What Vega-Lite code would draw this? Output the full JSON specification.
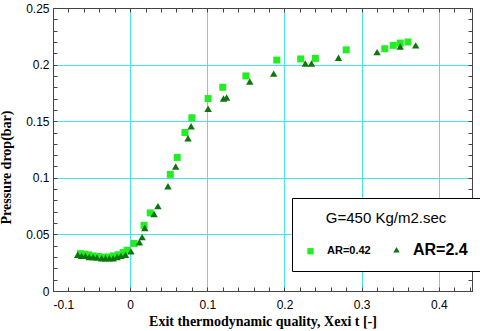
{
  "$schema": "https://vega.github.io/schema/vega-lite/v6.json",
  "width": 419,
  "height": 283,
  "autosize": {"type": "none"},
  "padding": {"left": 53, "top": 8, "right": 8, "bottom": 40},
  "background": "white",
  "config": {
    "view": {"stroke": "#444", "strokeWidth": 1},
    "axis": {
      "labelFont": "Liberation Sans",
      "labelFontSize": 12,
      "labelColor": "#000",
      "titleFont": "Liberation Serif",
      "titleFontSize": 14,
      "titleFontWeight": "bold",
      "titleColor": "#000",
      "domainColor": "#444",
      "tickColor": "#444",
      "gridColor": "#44e4ec",
      "gridWidth": 1
    }
  },
  "data": {
    "values": [
      {"x": -0.0645, "y": 0.033, "s": "AR=0.42"},
      {"x": -0.059, "y": 0.0325, "s": "AR=0.42"},
      {"x": -0.054, "y": 0.032, "s": "AR=0.42"},
      {"x": -0.048, "y": 0.031, "s": "AR=0.42"},
      {"x": -0.041, "y": 0.0305, "s": "AR=0.42"},
      {"x": -0.035, "y": 0.030, "s": "AR=0.42"},
      {"x": -0.028, "y": 0.030, "s": "AR=0.42"},
      {"x": -0.022, "y": 0.031, "s": "AR=0.42"},
      {"x": -0.0155, "y": 0.032, "s": "AR=0.42"},
      {"x": -0.009, "y": 0.034, "s": "AR=0.42"},
      {"x": -0.004, "y": 0.036, "s": "AR=0.42"},
      {"x": 0.005, "y": 0.042, "s": "AR=0.42"},
      {"x": 0.018, "y": 0.058, "s": "AR=0.42"},
      {"x": 0.026, "y": 0.069, "s": "AR=0.42"},
      {"x": 0.052, "y": 0.103, "s": "AR=0.42"},
      {"x": 0.061, "y": 0.118, "s": "AR=0.42"},
      {"x": 0.071, "y": 0.140, "s": "AR=0.42"},
      {"x": 0.080, "y": 0.153, "s": "AR=0.42"},
      {"x": 0.101, "y": 0.170, "s": "AR=0.42"},
      {"x": 0.120, "y": 0.180, "s": "AR=0.42"},
      {"x": 0.150, "y": 0.190, "s": "AR=0.42"},
      {"x": 0.190, "y": 0.204, "s": "AR=0.42"},
      {"x": 0.221, "y": 0.205, "s": "AR=0.42"},
      {"x": 0.240, "y": 0.2055, "s": "AR=0.42"},
      {"x": 0.280, "y": 0.213, "s": "AR=0.42"},
      {"x": 0.330, "y": 0.214, "s": "AR=0.42"},
      {"x": 0.341, "y": 0.217, "s": "AR=0.42"},
      {"x": 0.350, "y": 0.219, "s": "AR=0.42"},
      {"x": 0.360, "y": 0.220, "s": "AR=0.42"},
      {"x": -0.068, "y": 0.032, "s": "AR=2.4"},
      {"x": -0.063, "y": 0.031, "s": "AR=2.4"},
      {"x": -0.058, "y": 0.031, "s": "AR=2.4"},
      {"x": -0.053, "y": 0.030, "s": "AR=2.4"},
      {"x": -0.048, "y": 0.030, "s": "AR=2.4"},
      {"x": -0.043, "y": 0.0295, "s": "AR=2.4"},
      {"x": -0.037, "y": 0.029, "s": "AR=2.4"},
      {"x": -0.032, "y": 0.029, "s": "AR=2.4"},
      {"x": -0.027, "y": 0.029, "s": "AR=2.4"},
      {"x": -0.022, "y": 0.029, "s": "AR=2.4"},
      {"x": -0.017, "y": 0.030, "s": "AR=2.4"},
      {"x": -0.012, "y": 0.031, "s": "AR=2.4"},
      {"x": -0.006, "y": 0.032, "s": "AR=2.4"},
      {"x": 0.001, "y": 0.035, "s": "AR=2.4"},
      {"x": 0.012, "y": 0.043, "s": "AR=2.4"},
      {"x": 0.0155, "y": 0.0476, "s": "AR=2.4"},
      {"x": 0.019, "y": 0.0556, "s": "AR=2.4"},
      {"x": 0.031, "y": 0.068, "s": "AR=2.4"},
      {"x": 0.036, "y": 0.075, "s": "AR=2.4"},
      {"x": 0.049, "y": 0.0926, "s": "AR=2.4"},
      {"x": 0.059, "y": 0.110, "s": "AR=2.4"},
      {"x": 0.075, "y": 0.135, "s": "AR=2.4"},
      {"x": 0.079, "y": 0.1455, "s": "AR=2.4"},
      {"x": 0.101, "y": 0.161, "s": "AR=2.4"},
      {"x": 0.121, "y": 0.170, "s": "AR=2.4"},
      {"x": 0.125, "y": 0.171, "s": "AR=2.4"},
      {"x": 0.155, "y": 0.185, "s": "AR=2.4"},
      {"x": 0.186, "y": 0.192, "s": "AR=2.4"},
      {"x": 0.227, "y": 0.201, "s": "AR=2.4"},
      {"x": 0.235, "y": 0.201, "s": "AR=2.4"},
      {"x": 0.270, "y": 0.206, "s": "AR=2.4"},
      {"x": 0.320, "y": 0.211, "s": "AR=2.4"},
      {"x": 0.350, "y": 0.216, "s": "AR=2.4"},
      {"x": 0.370, "y": 0.217, "s": "AR=2.4"}
    ]
  },
  "resolve": {"axis": {"x": "independent", "y": "independent"}},
  "layer": [
    {
      "transform": [{"filter": "datum.s === 'AR=0.42'"}],
      "mark": {"type": "point", "filled": true, "opacity": 1, "size": 49},
      "encoding": {
        "x": {
          "field": "x", "type": "quantitative",
          "scale": {"domain": [-0.1, 0.443], "nice": false, "zero": false},
          "axis": {
            "orient": "bottom",
            "title": "Exit thermodynamic quality, Xexi t [-]",
            "titlePadding": 4,
            "values": [-0.1, -0.08, -0.06, -0.04, -0.02, 0, 0.02, 0.04, 0.06, 0.08, 0.1, 0.12, 0.14, 0.16, 0.18, 0.2, 0.22, 0.24, 0.26, 0.28, 0.3, 0.32, 0.34, 0.36, 0.38, 0.4, 0.42, 0.44],
            "tickSize": -4,
            "labelPadding": 12,
            "labelExpr": "abs(datum.value*10 - round(datum.value*10)) < 1e-6 ? replace(format(datum.value, '~g'), '\u2212', '-') : ''",
            "grid": true,
            "gridOpacity": {"condition": {"test": "abs(datum.value*10 - round(datum.value*10)) < 1e-6", "value": 1}, "value": 0}
          }
        },
        "y": {
          "field": "y", "type": "quantitative",
          "scale": {"domain": [0, 0.25], "nice": false},
          "axis": {
            "orient": "left",
            "title": "Pressure drop(bar)",
            "titleX": -40,
            "titleY": 159,
            "values": [0, 0.01, 0.02, 0.03, 0.04, 0.05, 0.06, 0.07, 0.08, 0.09, 0.1, 0.11, 0.12, 0.13, 0.14, 0.15, 0.16, 0.17, 0.18, 0.19, 0.2, 0.21, 0.22, 0.23, 0.24, 0.25],
            "tickSize": -4,
            "labelPadding": 8,
            "labelExpr": "abs(datum.value*20 - round(datum.value*20)) < 1e-6 ? format(datum.value, '~g') : ''",
            "grid": true,
            "gridOpacity": {"condition": {"test": "abs(datum.value*20 - round(datum.value*20)) < 1e-6", "value": 1}, "value": 0}
          }
        },
        "color": {
          "field": "s", "type": "nominal",
          "scale": {"domain": ["AR=0.42", "AR=2.4"], "range": ["#22ee22", "#0b760b"]},
          "legend": {
            "title": "G=450 Kg/m2.sec",
            "orient": "none",
            "legendX": 239,
            "legendY": 190,
            "direction": "horizontal",
            "columns": 2,
            "strokeColor": "#000",
            "fillColor": "#fff",
            "padding": 13,
            "titleFont": "Liberation Sans",
            "titleFontSize": 15,
            "titleFontWeight": "normal",
            "titleColor": "#000",
            "titleAnchor": "middle",
            "titlePadding": 18,
            "labelFont": "Liberation Sans",
            "labelFontWeight": "bold",
            "labelColor": "#000",
            "labelFontSize": 11,
            "labelOffset": 11,
            "columnPadding": 20,
            "symbolSize": 40,
            "symbolOpacity": 1,
            "encode": {"labels": {"update": {"fontSize": {"signal": "datum.label === 'AR=2.4' ? 16 : 11"}}}}
          }
        },
        "shape": {
          "field": "s", "type": "nominal",
          "scale": {"domain": ["AR=0.42", "AR=2.4"], "range": ["square", "triangle-up"]},
          "legend": null
        }
      }
    },
    {
      "transform": [{"filter": "datum.s === 'AR=2.4'"}],
      "mark": {"type": "point", "filled": true, "opacity": 1, "size": 55},
      "encoding": {
        "x": {
          "field": "x", "type": "quantitative",
          "axis": {
            "orient": "top",
            "title": null,
            "labels": false,
            "domain": true,
            "grid": false,
            "values": [-0.1, -0.08, -0.06, -0.04, -0.02, 0, 0.02, 0.04, 0.06, 0.08, 0.1, 0.12, 0.14, 0.16, 0.18, 0.2, 0.22, 0.24, 0.26, 0.28, 0.3, 0.32, 0.34, 0.36, 0.38, 0.4, 0.42, 0.44],
            "tickSize": -4
          }
        },
        "y": {
          "field": "y", "type": "quantitative",
          "axis": {
            "orient": "right",
            "title": null,
            "labels": false,
            "domain": true,
            "grid": false,
            "values": [0, 0.01, 0.02, 0.03, 0.04, 0.05, 0.06, 0.07, 0.08, 0.09, 0.1, 0.11, 0.12, 0.13, 0.14, 0.15, 0.16, 0.17, 0.18, 0.19, 0.2, 0.21, 0.22, 0.23, 0.24, 0.25],
            "tickSize": -4
          }
        },
        "color": {"field": "s", "type": "nominal"},
        "shape": {"field": "s", "type": "nominal"}
      }
    }
  ]
}
